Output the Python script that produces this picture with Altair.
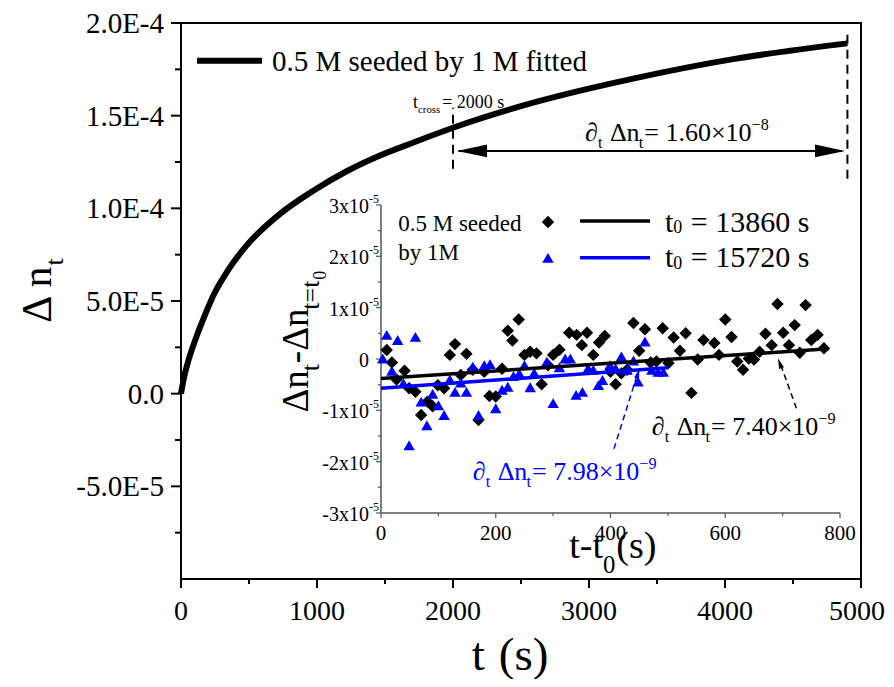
import altair as alt
import pandas as pd

FONT = "Liberation Serif"
BLUE = "#0000ff"
GRAY = "#555555"

# ---------------- data ----------------
# main fitted curve: t (s) and delta n_t in units of 1e-5
t_fit = [0, 20, 49, 88, 115, 160, 238, 340, 483, 728, 973, 1218, 1463, 1708, 2000, 2590, 3325, 4060, 4900]
n_fit = [0, 0.8, 1.65, 2.55, 3.1, 3.95, 5.3, 6.6, 8.0, 9.7, 10.95, 12.0, 12.85, 13.55, 14.35, 15.7, 17.0, 18.05, 18.9]

# inset: t0 = 13860 s (black diamonds), values in units of 1e-5
t_black = [10, 19, 27, 41, 49, 60, 70, 81, 90, 99, 110, 120, 129, 139, 149, 160, 170, 180, 189, 200,
           211, 221, 229, 240, 250, 260, 271, 280, 291, 300, 311, 328, 341, 350, 359, 370, 380, 390, 400, 409,
           419, 429, 440, 450, 460, 470, 480, 491, 501, 510, 521, 531, 541, 552, 562, 581, 589, 600, 611, 621,
           631, 641, 650, 660, 670, 681, 691, 701, 711, 721, 730, 740, 750, 761, 772]
v_black = [0.175, -0.07, -0.40, -0.23, -0.57, -0.64, -1.09, -0.83, -0.92, -0.51, -0.57, 0.08, 0.29, -0.31, 0.10, -0.21, -1.19, -0.25, -0.72, -0.73,
           -0.19, 0.55, 0.36, 0.77, 0.08, 0.14, 0.11, -0.49, -0.12, 0.08, 0.18, 0.51, 0.47, 0.27, 0.51, 0.08, 0.32, 0.45, -0.25, -0.49,
           -0.28, -0.21, 0.70, 0.16, 0.58, -0.07, -0.05, 0.60, -0.08, 0.42, 0.16, 0.50, -0.66, -0.01, 0.37, 0.31, 0.08, 0.77, 0.43, -0.05,
           -0.21, 0.01, -0.01, 0.14, 0.49, 0.27, 1.07, 0.51, 0.27, 0.66, 0.12, 1.05, 0.37, 0.47, 0.21]

# inset: t0 = 15720 s (blue triangles), values in units of 1e-5
t_blue = [3, 10, 19, 29, 39, 49, 60, 70, 80, 90, 100, 110, 120, 129, 139, 149, 160, 170, 180, 190,
          200, 211, 221, 231, 241, 250, 260, 267, 289, 300, 311, 321, 330, 340, 351, 361, 370, 379, 386, 399,
          409, 419, 429, 440, 448, 460, 472, 483, 492]
v_blue = [0.01, 0.47, -0.23, 0.37, -0.47, -1.68, 0.43, -0.83, -1.29, -0.68, -0.90, -1.09, -0.40, -0.64, -0.46, -0.64, -0.15, -1.09, -0.12, -0.10,
          -0.96, -0.60, -0.54, -0.33, -0.28, -0.12, -0.55, -0.27, -0.05, -0.86, -0.16, 0.01, 0.01, -0.70, -0.64, -0.18, -0.21, -0.51, -0.41, -0.12,
          -0.18, 0.05, -0.21, -0.03, -0.44, 0.34, -0.21, -0.25, -0.25]

# linear fits (end points)
fit_black_t = [0, 780]
fit_black_v = [-0.38, 0.20]
fit_blue_t = [0, 500]
fit_blue_v = [-0.57, -0.17]

# tick values / labels
x_major = [0, 1000, 2000, 3000, 4000, 5000]
x_major_lab = ["0", "1000", "2000", "3000", "4000", "5000"]
x_minor = [500, 1500, 2500, 3500, 4500]
y_major = [-5, 0, 5, 10, 15, 20]
y_major_lab = ["-5.0E-5", "0.0", "5.0E-5", "1.0E-4", "1.5E-4", "2.0E-4"]
y_minor = [-7.5, -2.5, 2.5, 7.5, 12.5, 17.5]
in_x_major = [0, 200, 400, 600, 800]
in_x_minor = [100, 300, 500, 700]
in_y_major = [-3, -2, -1, 0, 1, 2, 3]
in_y_minor = [-2.5, -1.5, -0.5, 0.5, 1.5, 2.5]
in_y_base = ["-3x10", "-2x10", "-1x10", "0", "1x10", "2x10", "3x10"]
in_y_sup = ["-5", "-5", "-5", "", "-5", "-5", "-5"]

# ---------------- scales ----------------
XS = alt.Scale(domain=[0, 5000], nice=False, zero=False)
YS = alt.Scale(domain=[-10, 20], nice=False, zero=False)
XI = alt.Scale(domain=[0, 800], range=[200, 659], nice=False, zero=False)
YI = alt.Scale(domain=[-3, 3], range=[490, 182], nice=False, zero=False)

W = {'.': .25, ' ': .25, '=': .564, '×': .564, 'x': .5, 'Δ': .612, 'n': .5, 't': .278, '∂': .494,
     '−': .564, '-': .333, '(': .333, ')': .333, 's': .389, 'c': .444, 'r': .333, 'o': .5, 'M': .889,
     'e': .444, 'd': .5, 'b': .5, 'y': .5, 'f': .333, 'i': .278}


def tw(s, size):
    return sum(W.get(ch, 0.5) for ch in s) * size


def enc(xs, ys, xf="x", yf="y"):
    return dict(x=alt.X(f"{xf}:Q", scale=xs, axis=None), y=alt.Y(f"{yf}:Q", scale=ys, axis=None))


def rich(x, y, segs, size, xs=None, ys=None, color="black", align="left", angle=0,
         sub_scale=0.62, sub_dy=0.28, px=False, sub_gap=1.0):
    pieces = []
    cur = 0.0
    for text, kind in segs:
        if kind == "gap":
            cur += text
            continue
        if kind == "n":
            fs, dy = size, 0
        elif kind == "sub":
            fs, dy = size * sub_scale, size * sub_dy
        elif kind == "subsub":
            fs, dy = size * sub_scale * 0.7, size * sub_dy + size * 0.18
        else:
            fs, dy = size * sub_scale, -size * 0.42
        lead = len(text) - len(text.lstrip(" "))
        cur += lead * 0.25 * fs
        core = text.strip(" ")
        pieces.append((core, cur, dy, fs))
        cur += tw(core, fs)
        if kind != "n":
            cur += sub_gap
    shift = {"left": 0, "center": -cur / 2, "right": -cur}[align]
    layers = []
    for text, off, dy, fs in pieces:
        mk = dict(text=text, dx=off + shift, dy=dy, fontSize=fs, align="left",
                  baseline="alphabetic", font=FONT, color=color)
        if angle:
            mk["angle"] = angle
        df = pd.DataFrame({"x": [x], "y": [y]})
        if px:
            e = dict(x=alt.value(x), y=alt.value(y))
        else:
            e = enc(xs, ys)
        layers.append(alt.Chart(df).mark_text(**mk).encode(**e))
    return layers


# ---------------- main panel ----------------
curve_df = pd.DataFrame({"x": t_fit, "y": n_fit})
curve = alt.Chart(curve_df).mark_line(color="black", strokeWidth=6, interpolate="monotone").encode(**enc(XS, YS))

# axes drawn from tick lists
xmaj_df = pd.DataFrame({"x": x_major, "y": [-10] * len(x_major), "lab": x_major_lab})
xmaj = alt.Chart(xmaj_df).mark_rule(color="black", strokeWidth=2, y2Offset=9).encode(**enc(XS, YS), y2="y")
xlab_main = alt.Chart(xmaj_df.iloc[:-1]).mark_text(font=FONT, fontSize=28, align="center", baseline="alphabetic",
                                                   dy=41, color="black").encode(**enc(XS, YS), text="lab:N")
xlab_last = alt.Chart(xmaj_df.iloc[-1:]).mark_text(font=FONT, fontSize=28, align="center", baseline="alphabetic",
                                                   dx=-4, dy=41, color="black").encode(**enc(XS, YS), text="lab:N")
xmin_df = pd.DataFrame({"x": x_minor, "y": [-10] * len(x_minor)})
xminor = alt.Chart(xmin_df).mark_rule(color="black", strokeWidth=2, y2Offset=5).encode(**enc(XS, YS), y2="y")

ymaj_df = pd.DataFrame({"x": [0] * len(y_major), "y": y_major, "lab": y_major_lab})
ymaj = alt.Chart(ymaj_df).mark_rule(color="black", strokeWidth=2, x2Offset=-10).encode(**enc(XS, YS), x2="x")
ylab_main = alt.Chart(ymaj_df).mark_text(font=FONT, fontSize=29, align="right", baseline="middle",
                                         dx=-17, dy=1, color="black").encode(**enc(XS, YS), text="lab:N")
ymin_df = pd.DataFrame({"x": [0] * len(y_minor), "y": y_minor})
yminor = alt.Chart(ymin_df).mark_rule(color="black", strokeWidth=2, x2Offset=-6).encode(**enc(XS, YS), x2="x")

leg_line = alt.Chart(pd.DataFrame({"x": [118], "x2": [596], "y": [17.96]})).mark_rule(
    color="black", strokeWidth=6).encode(**enc(XS, YS), x2="x2")
leg_text = rich(669, 17.42, [("0.5 M seeded by 1 M fitted", "n")], 29, XS, YS)

dash_df = pd.DataFrame({"x": [2000, 4900], "y": [12.14, 11.6], "y2": [15.43, 19.69]})
dashes = alt.Chart(dash_df).mark_rule(color="black", strokeWidth=2, strokeDash=[9, 6]).encode(
    **enc(XS, YS), y2="y2")
arrow_line = alt.Chart(pd.DataFrame({"x": [2040], "x2": [4860], "y": [13.1]})).mark_rule(
    color="black", strokeWidth=2).encode(**enc(XS, YS), x2="x2")
head_l = alt.Chart(pd.DataFrame({"x": [2140], "y": [13.1]})).mark_point(
    shape="M-1,0L1,-0.42L1,0.42Z", size=900, filled=True, color="black", opacity=1).encode(**enc(XS, YS))
head_r = alt.Chart(pd.DataFrame({"x": [4772], "y": [13.1]})).mark_point(
    shape="M1,0L-1,-0.42L-1,0.42Z", size=900, filled=True, color="black", opacity=1).encode(**enc(XS, YS))

tcross = rich(1706, 15.43, [("t", "n"), ("cross", "sub"), ("= 2000 s", "n")], 18, XS, YS,
              sub_scale=0.6, sub_dy=0.32, sub_gap=2)
slope_main = rich(2971, 13.65, [("∂", "n"), ("t", "sub"), (" Δn", "n"), ("t", "sub"),
                                ("= 1.60×10", "n"), ("−8", "sup")], 26, XS, YS)

ytitle = rich(-130, 267, [("Δ n", "n"), ("t", "sub")], 42, angle=270, px=True, align="center")
xtitle = rich(329, 647, [("t", "n"), (14, "gap"), ("(s)", "n")], 47, align="center", px=True)

main_layers = ([curve, xmaj, xminor, ymaj, yminor, xlab_main, xlab_last, ylab_main, leg_line, dashes, arrow_line,
                head_l, head_r] + leg_text + tcross + slope_main + ytitle + xtitle)
main = alt.layer(*main_layers)

# ---------------- inset ----------------
blk_df = pd.DataFrame({"x": t_black, "y": v_black})
blu_df = pd.DataFrame({"x": t_blue, "y": v_blue})
pts_black = alt.Chart(blk_df).mark_point(shape="diamond", size=155, filled=True, color="black", opacity=1).encode(**enc(XI, YI))
pts_blue = alt.Chart(blu_df).mark_point(shape="triangle-up", size=130, filled=True, color=BLUE, opacity=1).encode(**enc(XI, YI))
fit_blk = alt.Chart(pd.DataFrame({"x": fit_black_t, "y": fit_black_v})).mark_line(color="black", strokeWidth=3.5).encode(**enc(XI, YI))
fit_blu = alt.Chart(pd.DataFrame({"x": fit_blue_t, "y": fit_blue_v})).mark_line(color=BLUE, strokeWidth=3.5).encode(**enc(XI, YI))

ax_y = alt.Chart(pd.DataFrame({"x": [0], "y": [-3], "y2": [3]})).mark_rule(color=GRAY, strokeWidth=1.5).encode(**enc(XI, YI), y2="y2")
ax_x = alt.Chart(pd.DataFrame({"x": [0], "x2": [800], "y": [-3]})).mark_rule(color=GRAY, strokeWidth=1.5).encode(**enc(XI, YI), x2="x2")
ytk = alt.Chart(pd.DataFrame({"x": [0] * len(in_y_major), "y": in_y_major})).mark_rule(color=GRAY, strokeWidth=1.2, x2Offset=-5).encode(**enc(XI, YI), x2="x")
ytk2 = alt.Chart(pd.DataFrame({"x": [0] * len(in_y_minor), "y": in_y_minor})).mark_rule(color=GRAY, strokeWidth=1.2, x2Offset=-3).encode(**enc(XI, YI), x2="x")
xtk = alt.Chart(pd.DataFrame({"x": in_x_major, "y": [-3] * len(in_x_major)})).mark_rule(color=GRAY, strokeWidth=1.2, y2Offset=5).encode(**enc(XI, YI), y2="y")
xtk2 = alt.Chart(pd.DataFrame({"x": in_x_minor, "y": [-3] * len(in_x_minor)})).mark_rule(color=GRAY, strokeWidth=1.2, y2Offset=3).encode(**enc(XI, YI), y2="y")

ylab_df = pd.DataFrame({"x": [0] * len(in_y_major), "y": in_y_major, "base": in_y_base, "sup": in_y_sup})
ylab = alt.Chart(ylab_df).mark_text(font=FONT, fontSize=20, align="right", baseline="middle", dx=-12, dy=2, color="black").encode(**enc(XI, YI), text="base:N")
ysup = alt.Chart(ylab_df).mark_text(font=FONT, fontSize=12, align="left", baseline="middle", dx=-12, dy=-6, color="black").encode(**enc(XI, YI), text="sup:N")
xlab_df = pd.DataFrame({"x": in_x_major, "y": [-3] * len(in_x_major), "lab": [str(v) for v in in_x_major]})
xlab = alt.Chart(xlab_df).mark_text(font=FONT, fontSize=21, align="center", baseline="alphabetic", dy=27, color="black").encode(**enc(XI, YI), text="lab:N")

in_xtitle = rich(404, -3.88, [("t-t", "n"), ("0", "sub"), ("(s)", "n")], 38, XI, YI, align="center",
                 sub_scale=0.65, sub_dy=0.38)
in_ytitle = rich(-127, 0.35, [("Δn", "n"), ("t", "sub"), ("-Δn", "n"), ("t=t", "sub"), ("0", "subsub")],
                 37, XI, YI, align="center", angle=270, sub_scale=0.7, sub_dy=0.3)

leg1 = rich(30, 2.50, [("0.5 M seeded", "n")], 23, XI, YI)
leg2 = rich(30, 1.93, [("by 1M", "n")], 23, XI, YI)
leg_d = alt.Chart(pd.DataFrame({"x": [291], "y": [2.67]})).mark_point(shape="diamond", size=155, filled=True, color="black", opacity=1).encode(**enc(XI, YI))
leg_t = alt.Chart(pd.DataFrame({"x": [291], "y": [1.97]})).mark_point(shape="triangle-up", size=130, filled=True, color=BLUE, opacity=1).encode(**enc(XI, YI))
leg_l1 = alt.Chart(pd.DataFrame({"x": [347], "x2": [469], "y": [2.69]})).mark_rule(color="black", strokeWidth=3.5).encode(**enc(XI, YI), x2="x2")
leg_l2 = alt.Chart(pd.DataFrame({"x": [347], "x2": [469], "y": [1.97]})).mark_rule(color=BLUE, strokeWidth=3.5).encode(**enc(XI, YI), x2="x2")
leg_s1 = rich(495, 2.48, [("t", "n"), ("0", "sub"), (" = 13860 s", "n")], 30, XI, YI, sub_scale=0.6, sub_dy=0.05)
leg_s2 = rich(495, 1.79, [("t", "n"), ("0", "sub"), (" = 15720 s", "n")], 30, XI, YI, sub_scale=0.6, sub_dy=0.05)

arr_blk = alt.Chart(pd.DataFrame({"x": [724], "x2": [697], "y": [-0.96], "y2": [-0.12]})).mark_rule(
    color="black", strokeWidth=1.5, strokeDash=[6, 4]).encode(**enc(XI, YI), x2="x2", y2="y2")
arr_blk_h = alt.Chart(pd.DataFrame({"x": [695], "y": [-0.08]})).mark_point(
    shape="M0,-1L0.5,1L-0.5,1Z", size=110, angle=340, filled=True, color="black", opacity=1).encode(**enc(XI, YI))
arr_blu = alt.Chart(pd.DataFrame({"x": [406], "x2": [446], "y": [-1.75], "y2": [-0.33]})).mark_rule(
    color=BLUE, strokeWidth=1.5, strokeDash=[6, 4]).encode(**enc(XI, YI), x2="x2", y2="y2")
arr_blu_h = alt.Chart(pd.DataFrame({"x": [448], "y": [-0.28]})).mark_point(
    shape="M0,-1L0.5,1L-0.5,1Z", size=100, angle=17, filled=True, color=BLUE, opacity=1).encode(**enc(XI, YI))

slope_blk = rich(472, -1.48, [("∂", "n"), ("t", "sub"), (" Δn", "n"), ("t", "sub"),
                              ("= 7.40×10", "n"), ("−9", "sup")], 26, XI, YI)
slope_blu = rich(160, -2.36, [("∂", "n"), ("t", "sub"), (" Δn", "n"), ("t", "sub"),
                              ("= 7.98×10", "n"), ("−9", "sup")], 26, XI, YI, color=BLUE)

inset_layers = ([ax_y, ax_x, ytk, ytk2, xtk, xtk2, ylab, ysup, xlab, pts_black, pts_blue, fit_blu, fit_blk,
                 leg_d, leg_t, leg_l1, leg_l2, arr_blk, arr_blk_h, arr_blu, arr_blu_h]
                + in_xtitle + in_ytitle + leg1 + leg2 + leg_s1 + leg_s2 + slope_blk + slope_blu)
inset = alt.layer(*inset_layers)

chart = alt.layer(main, inset).resolve_scale(x="independent", y="independent").properties(
    width=680, height=556,
    autosize=alt.AutoSizeParams(type="none"),
    padding={"left": 173, "top": 15, "right": 25, "bottom": 100},
).configure_view(stroke="black", strokeWidth=2)

chart.save("out.html", embed_options={"renderer": "svg", "actions": False})
